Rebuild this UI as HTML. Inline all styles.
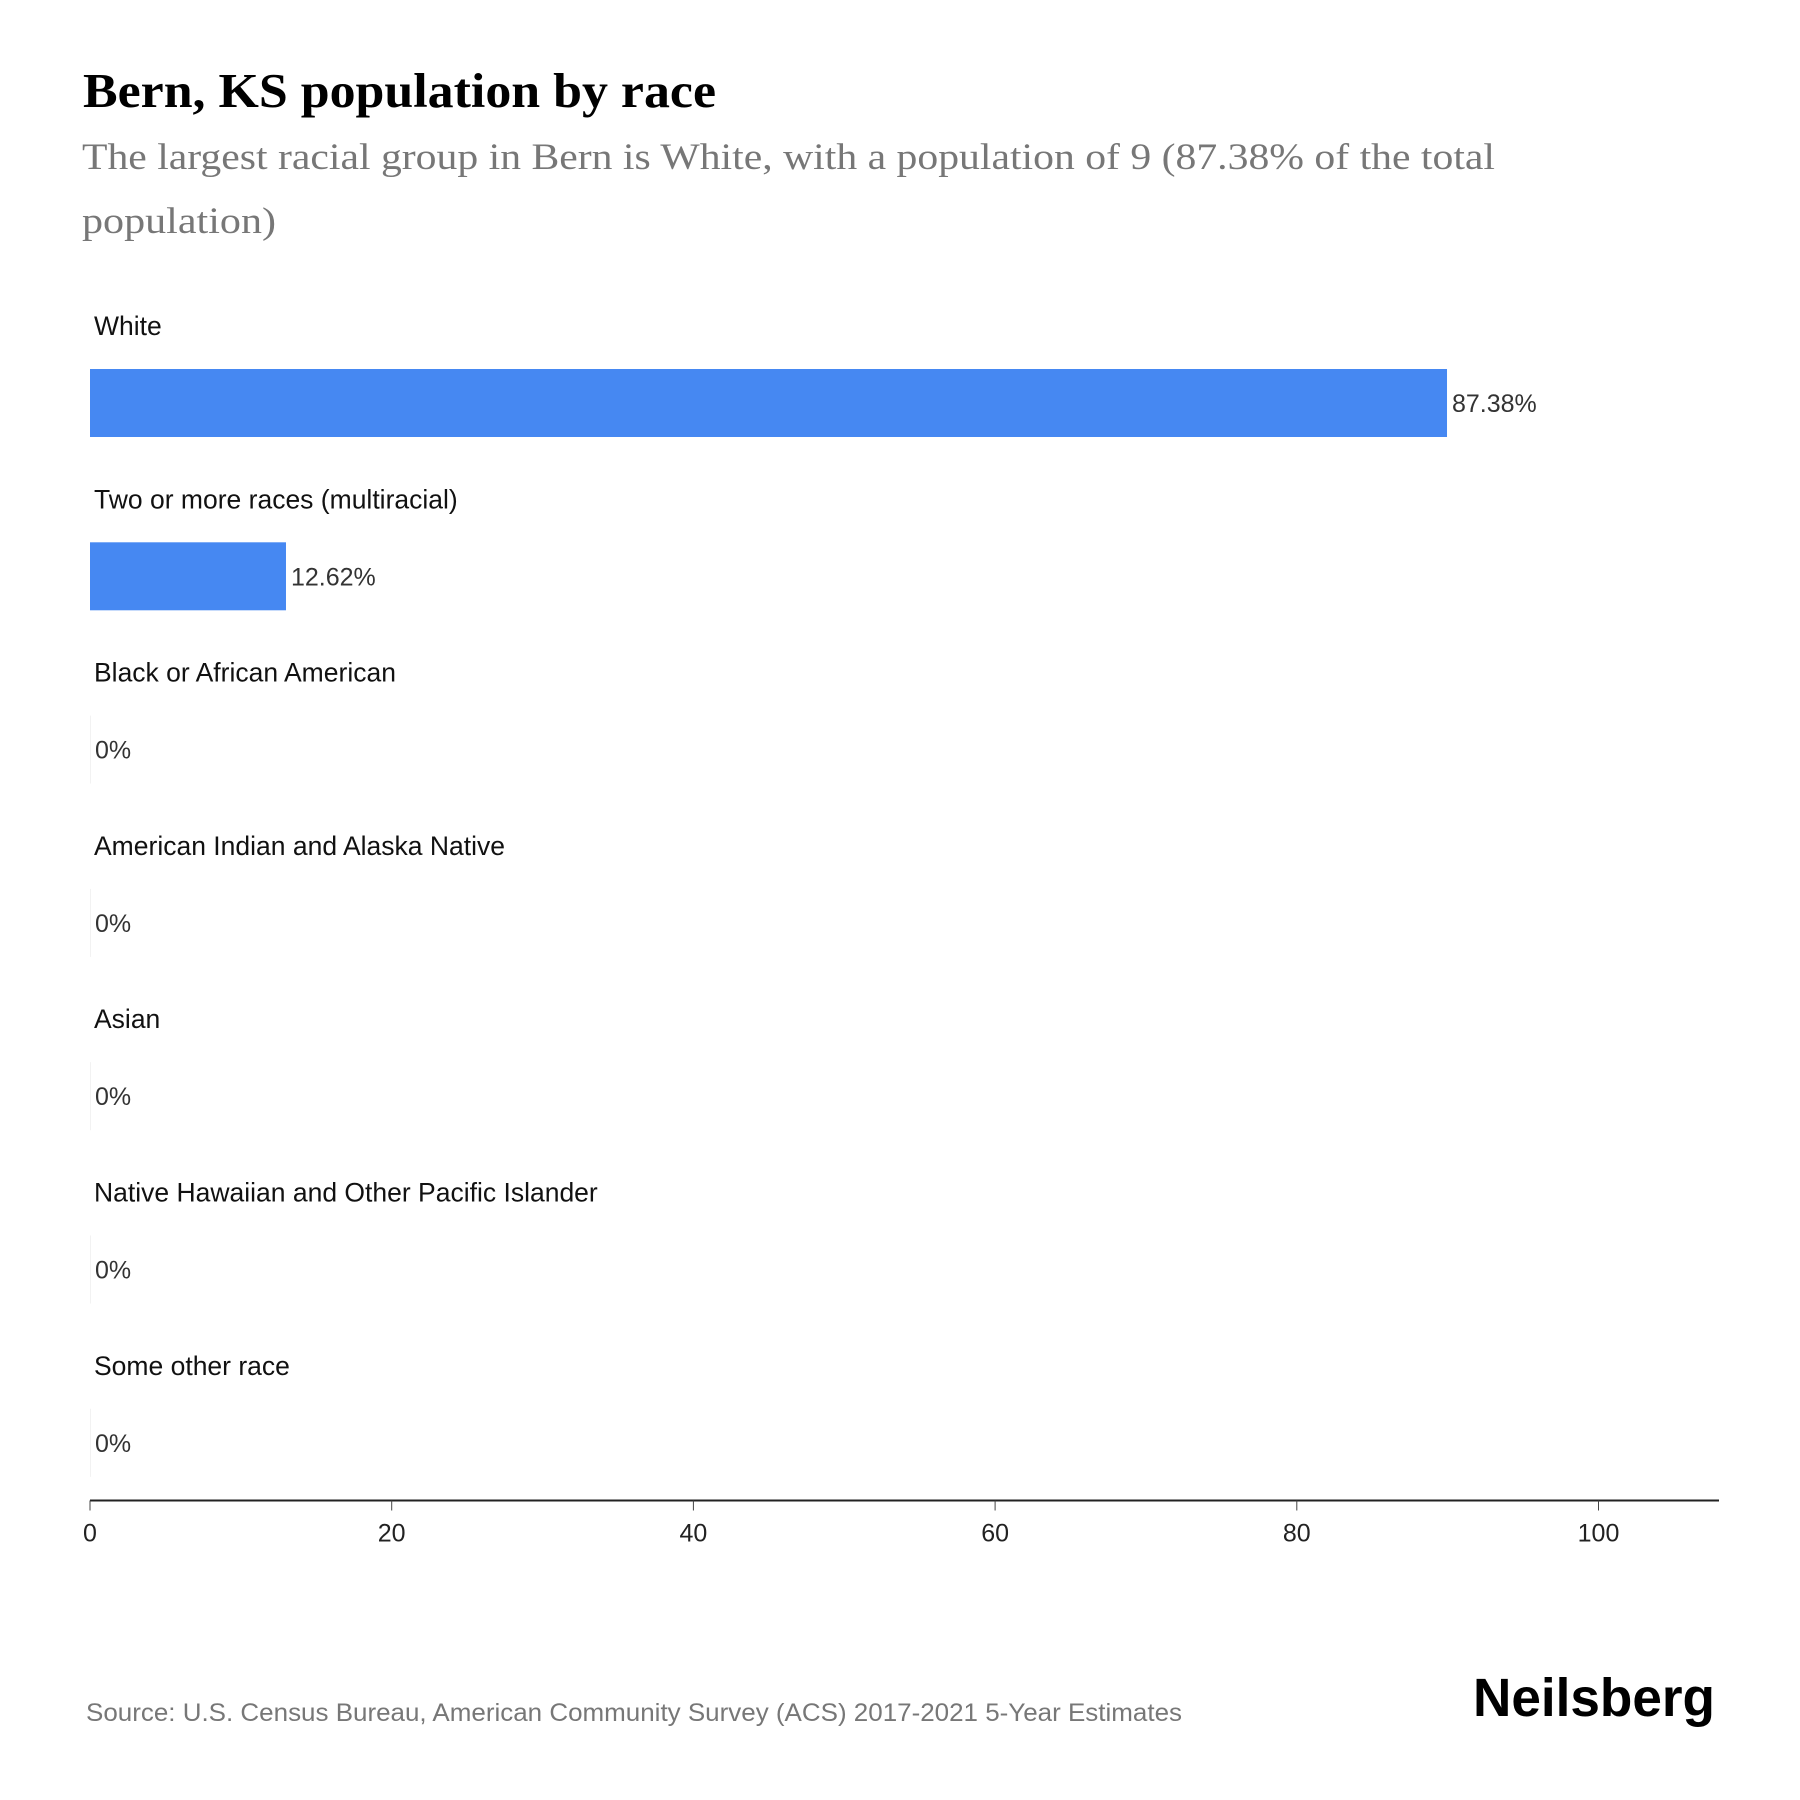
<!DOCTYPE html>
<html><head><meta charset="utf-8"><style>
html,body{margin:0;padding:0;background:#fff;}
svg{display:block;}
</style></head><body>
<svg id="chart" width="1800" height="1800" viewBox="0 0 1800 1800" xmlns="http://www.w3.org/2000/svg">
<text x="83" y="107" font-family="Liberation Serif, serif" font-weight="bold" font-size="49" fill="#000" textLength="633" lengthAdjust="spacingAndGlyphs">Bern, KS population by race</text>
<text font-family="Liberation Serif, serif" font-size="37" fill="#777">
<tspan x="82" y="169" textLength="1413" lengthAdjust="spacingAndGlyphs">The largest racial group in Bern is White, with a population of 9 (87.38% of the total</tspan>
<tspan x="82" y="233" textLength="194" lengthAdjust="spacingAndGlyphs">population)</tspan></text>
<g id="bars"></g>
<g id="axis"></g>
<text x="86" y="1721" font-family="Liberation Sans, sans-serif" font-size="25" fill="#777" textLength="1096" lengthAdjust="spacingAndGlyphs">Source: U.S. Census Bureau, American Community Survey (ACS) 2017-2021 5-Year Estimates</text>
<text x="1473" y="1716" font-family="Liberation Sans, sans-serif" font-weight="bold" font-size="54" fill="#000" textLength="242" lengthAdjust="spacingAndGlyphs">Neilsberg</text>
</svg>
<script>
const categories = ["White","Two or more races (multiracial)","Black or African American","American Indian and Alaska Native","Asian","Native Hawaiian and Other Pacific Islander","Some other race"];
const values = [87.38,12.62,0,0,0,0,0];
const valueLabels = ["87.38%","12.62%","0%","0%","0%","0%","0%"];
const ticks = [0,20,40,60,80,100];

const NS="http://www.w3.org/2000/svg";
const x0=90;
function xBar(v){return x0+v*15.53;}
function xTick(v){return x0+v*15.085;}
function rowTop(i){return 369+i*173.3;}
function mk(tag,attrs,parent){const e=document.createElementNS(NS,tag);for(const k in attrs)e.setAttribute(k,attrs[k]);parent.appendChild(e);return e;}
const gb=document.getElementById('bars');
categories.forEach((c,i)=>{
  const top=rowTop(i);
  const lab=mk('text',{x:94,y:top-34,'font-family':'Liberation Sans, sans-serif','font-size':26.5,fill:'#111'},gb);
  
  
  lab.textContent=c;
  const w=Math.max(xBar(values[i])-x0,values[i]>0?0:1);
  const r=mk('rect',{x:x0,y:top,width:w,height:68,fill:values[i]>0?'#4688f2':'#f2f2f2'},gb);
  
  
  const vl=mk('text',{x:xBar(values[i])+5,y:top+43,'font-family':'Liberation Sans, sans-serif','font-size':25,fill:'#333'},gb);
  
  
  vl.textContent=valueLabels[i];
});
const ga=document.getElementById('axis');
const ay=1500.5;
const al=mk('line',{x1:x0,x2:1719,y1:ay,y2:ay,stroke:'#222','stroke-width':2},ga);


ticks.forEach(t=>{
  const tk=mk('line',{x1:xTick(t),x2:xTick(t),y1:ay,y2:ay+10,stroke:'#444','stroke-width':1},ga);
  
  
  const tl=mk('text',{x:xTick(t),y:ay+41,'text-anchor':'middle','font-family':'Liberation Sans, sans-serif','font-size':25,fill:'#222'},ga);
  
  
  tl.textContent=t;
});
</script>
</body></html>
